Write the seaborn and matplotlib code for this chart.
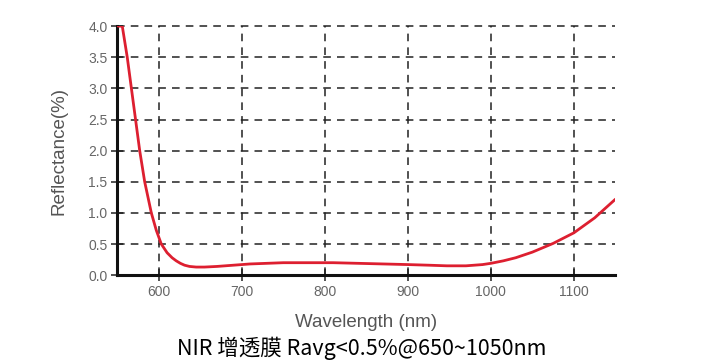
import matplotlib
matplotlib.use("Agg")
import matplotlib.pyplot as plt
import seaborn as sns
import pandas as pd

wavelength = [551, 556, 562, 567, 572, 577, 583, 591, 597, 603, 610, 616, 621, 626, 631, 637, 645, 655, 670, 690, 710, 730, 750, 780, 810, 840, 870, 900, 925, 947, 970, 990, 1000, 1015, 1030, 1050, 1075, 1100, 1125, 1150]
reflectance = [4.0, 4.0, 3.5, 3.0, 2.5, 2.0, 1.5, 1.0, 0.72, 0.5, 0.36, 0.28, 0.23, 0.19, 0.16, 0.14, 0.13, 0.13, 0.14, 0.16, 0.18, 0.19, 0.2, 0.2, 0.2, 0.19, 0.18, 0.17, 0.16, 0.15, 0.15, 0.17, 0.19, 0.23, 0.28, 0.37, 0.51, 0.68, 0.92, 1.22]
x_ticks = [600, 700, 800, 900, 1000, 1100]
y_ticks = [0.0, 0.5, 1.0, 1.5, 2.0, 2.5, 3.0, 3.5, 4.0]

sns.set_theme(style="white")
plt.rcParams['font.family'] = ['Liberation Sans', 'DejaVu Sans']

fig = plt.figure(figsize=(7.24, 3.63), dpi=100)
ax = fig.add_axes([0.162, 0.242, 0.688, 0.686])

df = pd.DataFrame({"Wavelength": wavelength, "Reflectance": reflectance})
sns.lineplot(data=df, x="Wavelength", y="Reflectance", ax=ax, color="#dd1f30", linewidth=2.0, zorder=3)

ax.set_xlim(550, 1150)
ax.set_ylim(0, 4.0)
ax.set_xticks(x_ticks)
ax.set_yticks(y_ticks)
ax.set_yticklabels([f"{v:.1f}" for v in y_ticks])

for v in x_ticks:
    ax.axvline(v, color="#222222", linestyle=(0, (5, 4)), linewidth=1.1, zorder=1)
for v in y_ticks[1:]:
    ax.axhline(v, color="#222222", linestyle=(0, (5, 4)), linewidth=1.1, zorder=1, clip_on=False)

for s in ["top", "right"]:
    ax.spines[s].set_visible(False)
for s in ["left", "bottom"]:
    ax.spines[s].set_color("#111111")
    ax.spines[s].set_linewidth(2.2)

ax.tick_params(axis="both", direction="inout", length=8, width=1.2, color="#333333",
               labelcolor="#666666", labelsize=10, pad=3, bottom=True, left=True)

ax.set_xlabel("Wavelength (nm)", color="#555555", fontsize=13.5, labelpad=11)
ax.set_ylabel("Reflectance(%)", color="#555555", fontsize=13.5, labelpad=15)

fig.text(0.5, 0.04, "NIR 增透膜 Ravg<0.5%@650~1050nm", ha="center", va="center",
         fontsize=15.5, color="black", family=['Noto Sans CJK SC', 'DejaVu Sans'])

fig.savefig("out.png", dpi=100, facecolor="white")
